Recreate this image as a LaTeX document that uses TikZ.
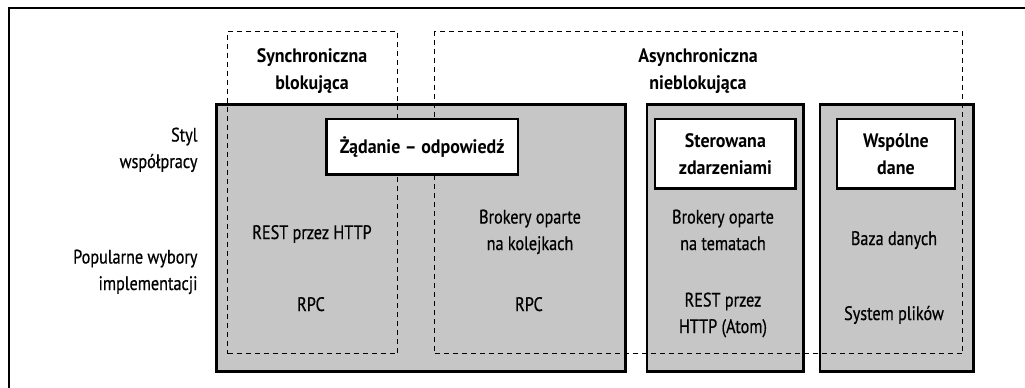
\documentclass[tikz,border=0pt]{standalone}
\usepackage{fontspec}
\setmainfont{PT Sans}[FakeStretch=0.83, FakeBold=0.6, BoldFeatures={FakeStretch=0.92, FakeBold=0}]
\definecolor{boxgray}{HTML}{C6C6C6}

\begin{document}
\begin{tikzpicture}[
    x=1pt, y=-1pt,
    font=\fontsize{19.5}{26.5}\selectfont,
    szary/.style = {rectangle, draw, fill=boxgray, line width=2.7pt, anchor=north west, inner sep=0pt},
    kreski/.style = {rectangle, draw, dash pattern=on 5pt off 4pt, line width=1.1pt, anchor=north west, inner sep=0pt},
    ramka/.style = {rectangle, draw, fill=white, line width=2.4pt, anchor=north west, inner sep=0pt, align=center, font=\fontsize{19.5}{27}\selectfont\bfseries},
    opis/.style = {align=center, anchor=base},
    naglowek/.style = {align=center, anchor=base, font=\fontsize{19.5}{27}\selectfont\bfseries},
    bok/.style = {align=right, anchor=base east}
    ]

  \useasboundingbox (0,0) rectangle (1025,388);

  % frame
  \coordinate (ramkaLD) at (8.8,388);
  \coordinate (ramkaPG) at (1025,7.7);
  \draw[line width=2.3pt] (ramkaLD) |- (ramkaPG);

  % grey columns
  \node[szary, minimum width=408.7, minimum height=267.3] (zadanie) at (215.3,103) {};
  \node[szary, minimum width=156.6, minimum height=267.3] (zdarzenia) at (645.6,103) {};
  \node[szary, minimum width=153.7, minimum height=267.3] (dane) at (818.6,103) {};

  % dashed groups (base = last line)
  \node[kreski, minimum width=170.3, minimum height=322.3] (sync) at (227,31) {};
  \node[kreski, minimum width=527.7, minimum height=322.3] (async) at (434.3,31) {};

  \node[naglowek] (synctxt) at (312,89) {Synchroniczna\\blokująca};
  \node[naglowek] (asynctxt) at (698,89) {Asynchroniczna\\nieblokująca};

  % styles of collaboration
  \node[ramka, minimum width=191.5, minimum height=55.5] (zadanieTyt) at (325.2,117.8) {Żądanie – odpowiedź};
  \node[ramka, minimum width=140.5, minimum height=69.5] (zdarzeniaTyt) at (653.9,117.8) {Sterowana\\zdarzeniami};
  \node[ramka, minimum width=118.5, minimum height=69.5] (daneTyt) at (835.5,117.8) {Wspólne\\dane};

  % row labels
  \node[bok] (styl) at (201,168) {Styl\\współpracy};
  \node[bok] (popularne) at (201,290) {Popularne wybory\\implementacji};

  % implementations
  \node[opis] (rest) at (312,239) {REST przez HTTP};
  \node[opis] (rpc) at (311,311) {RPC};
  \node[opis] (kolejki) at (530,250) {Brokery oparte\\na kolejkach};
  \node[opis] (rpc2) at (529,311) {RPC};
  \node[opis] (tematy) at (723,250) {Brokery oparte\\na tematach};
  \node[opis] (atom) at (723,333) {REST przez\\HTTP (Atom)};
  \node[opis] (baza) at (894,245) {Baza danych};
  \node[opis] (pliki) at (894,320) {System plików};
\end{tikzpicture}
\end{document}
